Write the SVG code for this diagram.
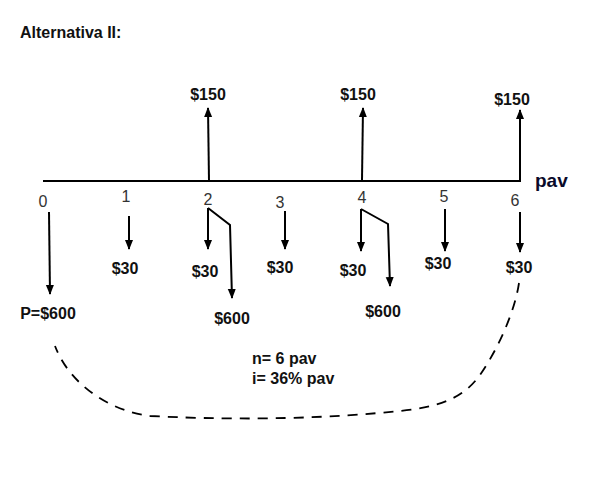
<svg xmlns="http://www.w3.org/2000/svg" width="599" height="479" viewBox="0 0 599 479">
<defs>
<marker id="ah" markerWidth="10" markerHeight="10" refX="9" refY="5" orient="auto" markerUnits="userSpaceOnUse">
<path d="M0,1 L10,5 L0,9 Z" fill="#000"/>
</marker>
</defs>
<style>
.l{stroke:#000;stroke-width:2;fill:none}
.a{stroke:#000;stroke-width:2;fill:none;marker-end:url(#ah)}
.t{font-family:"Liberation Sans",Arial,sans-serif;font-size:16px;font-weight:bold;fill:#111;text-anchor:middle}
.s{font-family:"Liberation Sans",Arial,sans-serif;font-size:16px;font-weight:bold;fill:#111;text-anchor:start}
.n{font-family:"Liberation Sans",Arial,sans-serif;font-size:16px;fill:#333;text-anchor:middle}
.d{stroke:#000;stroke-width:1.8;fill:none;stroke-dasharray:10,8}
</style>
<rect width="599" height="479" fill="#fff"/>
<text class="s" x="20" y="38">Alternativa II:</text>
<g id="axis">
<line class="l" x1="43" y1="181" x2="521" y2="181"/>
<text x="535" y="187" font-family="Liberation Sans, Arial, sans-serif" font-size="19" font-weight="bold" fill="#0a0a2a">pav</text>
</g>
<g id="ticks">
<text class="n" x="43" y="207">0</text>
<text class="n" x="126" y="202">1</text>
<text class="n" x="208" y="205">2</text>
<text class="n" x="280" y="208">3</text>
<text class="n" x="362" y="203">4</text>
<text class="n" x="444" y="202">5</text>
<text class="n" x="515" y="206">6</text>
</g>
<g id="connectors">
<line class="a" x1="209" y1="181" x2="208" y2="108"/>
<line class="a" x1="362" y1="180" x2="363" y2="108"/>
<line class="a" x1="520" y1="181" x2="520" y2="110"/>
<line class="a" x1="49" y1="212" x2="50" y2="294"/>
<line class="a" x1="129" y1="216" x2="129" y2="249"/>
<line class="a" x1="208" y1="208" x2="208" y2="249"/>
<polyline class="a" points="208,208 230,225 232,298"/>
<line class="a" x1="285" y1="211" x2="285" y2="249"/>
<line class="a" x1="361" y1="209" x2="361" y2="251"/>
<polyline class="a" points="361,209 388,224 390,286"/>
<line class="a" x1="445" y1="209" x2="445" y2="251"/>
<line class="a" x1="520" y1="212" x2="520" y2="252"/>
<path class="d" d="M519,283 C515,310 500,345 482,372 C465,398 440,407 400,411 C330,418 250,421 150,416 C110,411 70,385 55,346"/>
</g>
<g id="labels">
<text class="t" x="208" y="100">$150</text>
<text class="t" x="358" y="100">$150</text>
<text class="t" x="512" y="105">$150</text>
<text class="t" x="48" y="319">P=$600</text>
<text class="t" x="125" y="274">$30</text>
<text class="t" x="205" y="277">$30</text>
<text class="t" x="280" y="273">$30</text>
<text class="t" x="232" y="324">$600</text>
<text class="t" x="353" y="276">$30</text>
<text class="t" x="383" y="317">$600</text>
<text class="t" x="438" y="269">$30</text>
<text class="t" x="519" y="273">$30</text>
<text class="s" x="252" y="364">n= 6 pav</text>
<text class="s" x="252" y="384">i= 36% pav</text>
</g>
</svg>
